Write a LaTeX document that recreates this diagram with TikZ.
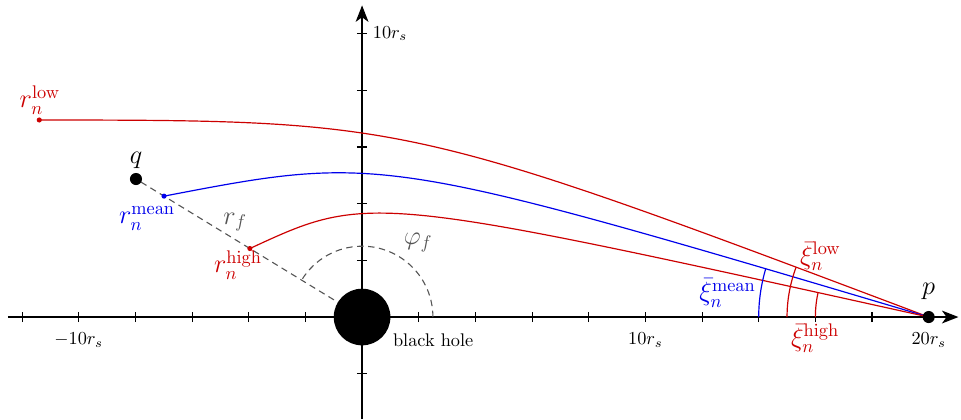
\documentclass[tikz,border=0pt]{standalone}
\usetikzlibrary{arrows.meta}
\definecolor{myred}{RGB}{204,0,0}
\definecolor{myblue}{RGB}{0,0,235}
\definecolor{mygray}{RGB}{85,85,85}
\begin{document}
\begin{tikzpicture}[x=0.544cm,y=0.544cm,
  axisline/.style={line width=0.8pt,-{Stealth[length=9pt,width=7pt,inset=2.5pt]}},
  tickline/.style={line width=0.6pt},
  curve/.style={line width=0.65pt},
  dashln/.style={mygray,line width=0.6pt,dash pattern=on 3.5pt off 2.5pt},
  bigdot/.style={circle,fill=black,inner sep=0pt,minimum size=6.6pt},
  smalldot/.style={circle,inner sep=0pt,minimum size=2.8pt},
  bhole/.style={circle,fill=black,inner sep=0pt,minimum size=1.088cm},
  lbl/.style={font=\Large,inner sep=0pt},
  ticklbl/.style={font=\normalsize,inner sep=0pt}]
\useasboundingbox (-12.78,-3.6) rectangle (21.14,11.19);
% named positions
\coordinate (O) at (0,0);
\coordinate (P) at (20,0);
\coordinate (Q) at (148.6:9.35);
\coordinate (RL) at (148.6:13.35);
\coordinate (RM) at (148.6:8.19);
\coordinate (RH) at (148.6:4.64);
\coordinate (xs) at (-12.5,0);
\coordinate (xe) at (21.05,0);
\coordinate (ys) at (0,-3.6);
\coordinate (ye) at (0,11.0);
\coordinate (phs) at (2.5,0);
% axes
\draw[axisline] (xs) -- (xe);
\draw[axisline] (ys) -- (ye);
\foreach \x in {-12,-10,...,-2} \draw[tickline] (\x,-0.18) -- (\x,0.18);
\foreach \x in {2,4,...,20} \draw[tickline] (\x,-0.18) -- (\x,0.18);
\foreach \y in {2,4,...,10} \draw[tickline] (-0.18,\y) -- (0.18,\y);
\draw[tickline] (-0.18,-2) -- (0.18,-2);
% dashed construction
\draw[dashln] (O) -- (Q);
\draw[dashln] (phs) arc[start angle=0,end angle=148.6,radius=2.5];
% light paths
\draw[curve,myred] (RL) .. controls (1.59,6.94) .. (P);
\draw[curve,myblue] (RM) .. controls (0.68,5.74) .. (P);
\draw[curve,myred] (RH) .. controls (0.25,4.37) .. (P);
% angle arcs at p
\draw[curve,myblue] ([shift={(-6,0)}]P) arc[start angle=180,end angle=163.46,radius=6];
\draw[curve,myred] ([shift={(-5,0)}]P) arc[start angle=180,end angle=159.34,radius=5];
\draw[curve,myred] ([shift={(-4,0)}]P) arc[start angle=180,end angle=167.51,radius=4];
% objects
\node[bhole] (bh) at (O) {};
\node[bigdot] (q) at (Q) {};
\node[bigdot] (p) at (P) {};
\node[smalldot,fill=myred] (rlow) at (RL) {};
\node[smalldot,fill=myblue] (rmean) at (RM) {};
\node[smalldot,fill=myred] (rhigh) at (RH) {};
% tick labels
\node[ticklbl] (tm10) at (-10,-0.81) {$-10r_s$};
\node[ticklbl] (t10) at (10,-0.81) {$10r_s$};
\node[ticklbl] (t20) at (20,-0.81) {$20r_s$};
\node[ticklbl] (ty10) at (0.99,10.0) {$10r_s$};
\node[ticklbl] (bhl) at (2.51,-0.81) {black hole};
% labels
\node[lbl,myred] (lrlow) at (-11.37,7.66) {$r_n^{\mathrm{low}}$};
\node[lbl] (lq) at (-7.98,5.54) {$q$};
\node[lbl,myblue] (lrmean) at (-7.59,3.49) {$r_n^{\mathrm{mean}}$};
\node[lbl,mygray] (lrf) at (-4.48,3.35) {$r_f$};
\node[lbl,myred] (lrhigh) at (-4.38,1.84) {$r_n^{\mathrm{high}}$};
\node[lbl,mygray] (lphi) at (1.98,2.61) {$\varphi_f$};
\node[lbl] (lp) at (20,0.92) {$p$};
\node[lbl,myred] (lxlow) at (16.18,2.14) {$\bar{\xi}_n^{\mathrm{low}}$};
\node[lbl,myblue] (lxmean) at (12.90,0.85) {$\bar{\xi}_n^{\mathrm{mean}}$};
\node[lbl,myred] (lxhigh) at (15.99,-0.76) {$\bar{\xi}_n^{\mathrm{high}}$};
\end{tikzpicture}
\end{document}
